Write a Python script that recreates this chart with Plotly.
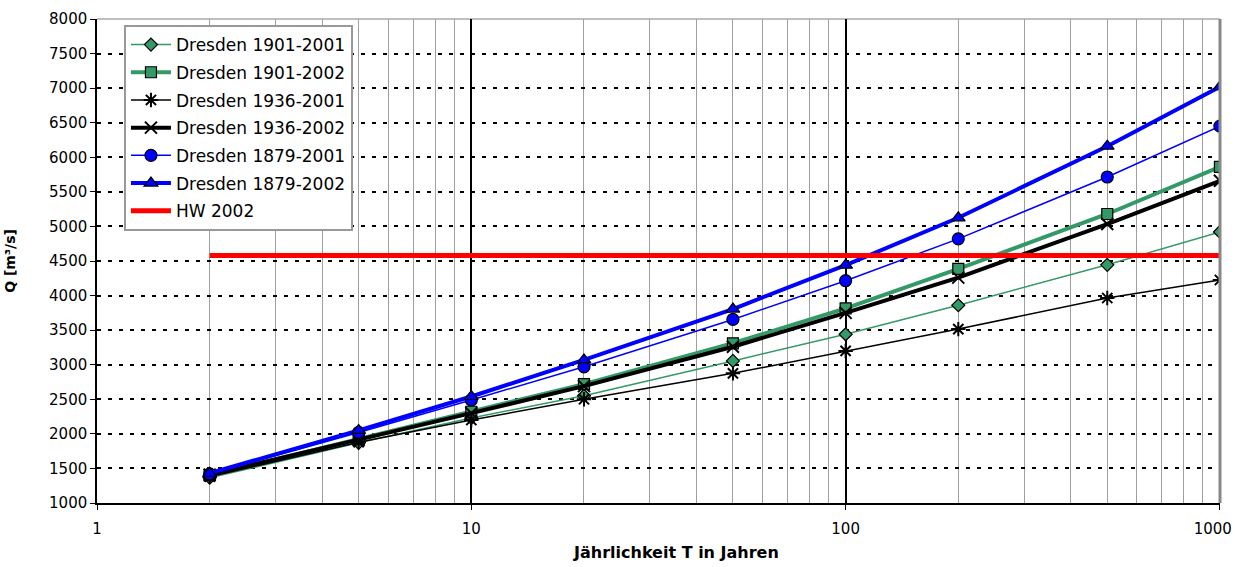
import plotly.graph_objects as go

T = [2, 5, 10, 20, 50, 100, 200, 500, 1000]

q_1901_2001 = [1365, 1870, 2230, 2550, 3055, 3440, 3860, 4445, 4920]
q_1901_2002 = [1400, 1930, 2320, 2720, 3310, 3815, 4385, 5180, 5860]
q_1936_2001 = [1380, 1880, 2200, 2500, 2875, 3200, 3515, 3965, 4225]
q_1936_2002 = [1410, 1910, 2300, 2690, 3260, 3750, 4260, 5035, 5660]
q_1879_2001 = [1420, 2020, 2490, 2970, 3655, 4215, 4820, 5715, 6450]
q_1879_2002 = [1430, 2050, 2540, 3070, 3805, 4440, 5125, 6160, 7020]

hw_T = [2, 1000]
hw_2002 = [4580, 4580]

x_ticks = [1, 10, 100, 1000]
x_ticktext = ["1", "10", "100", "1000\u00a0\u00a0\u00a0"]

GREEN = "#339966"
BLUE = "#0000FF"
FONT = "DejaVu Sans, Verdana, sans-serif"

fig = go.Figure()

def add(name, y, color, width, symbol, fill, size, mline_color="black", mline_w=1.2):
    fig.add_trace(go.Scatter(
        x=T, y=y, name=name, legendgroup=name, mode="lines+markers",
        line=dict(color=color, width=width),
        marker=dict(symbol=symbol, size=size, color=fill,
                    line=dict(color=mline_color, width=mline_w)),
    ))

add("Dresden 1901-2001", q_1901_2001, GREEN, 1.5, "diamond", GREEN, 10)
add("Dresden 1901-2002", q_1901_2002, GREEN, 4, "square", GREEN, 11)
add("Dresden 1936-2001", q_1936_2001, "black", 1.5, "asterisk-open", "black", 12, "black", 2)
add("Dresden 1936-2002", q_1936_2002, "black", 4, "x-thin-open", "black", 12, "black", 2)
add("Dresden 1879-2001", q_1879_2001, BLUE, 1.5, "circle", BLUE, 12)
add("Dresden 1879-2002", q_1879_2002, BLUE, 4, "triangle-up", BLUE, 12)

fig.add_trace(go.Scatter(
    x=hw_T, y=hw_2002, name="HW 2002", legendgroup="HW 2002", mode="lines",
    line=dict(color="#FF0000", width=5),
))

minor_vals = [m * d for d in (1, 10, 100) for m in range(2, 10)]

fig.update_layout(
    width=1235, height=567,
    margin=dict(l=97, r=15, t=19, b=64),
    paper_bgcolor="white", plot_bgcolor="white",
    font=dict(family=FONT, size=15, color="black"),
    showlegend=True,
    legend=dict(
        x=0.024, y=0.9876, xanchor="left", yanchor="top",
        bgcolor="white", bordercolor="#999999", borderwidth=2,
        font=dict(family=FONT, size=17), itemwidth=40,
        traceorder="grouped", tracegroupgap=2.6,
    ),
    xaxis=dict(
        type="log", range=[0, 3.0002], automargin=False,
        tickvals=x_ticks, ticktext=x_ticktext, ticklabeloverflow="allow",
        showgrid=True, gridcolor="black", gridwidth=1.5,
        showline=True, linecolor="black", linewidth=1.5,
        ticks="outside", ticklen=5, tickcolor="black", ticklabelstandoff=6,
        minor=dict(tickvals=minor_vals, showgrid=True, gridcolor="#A0A0A0", gridwidth=1, ticks=""),
        zeroline=False,
        tickfont=dict(family=FONT, size=15),
    ),
    yaxis=dict(
        range=[1000, 8000], dtick=500, tick0=1000, automargin=False,
        showgrid=True, gridcolor="black", gridwidth=2, griddash="4px,7px",
        showline=True, linecolor="black", linewidth=1.5,
        ticks="outside", ticklen=5, tickcolor="black",
        zeroline=False,
        title=dict(text="<b>Q [m³/s]</b>", font=dict(family=FONT, size=14), standoff=30),
        tickfont=dict(family=FONT, size=15),
    ),
    annotations=[dict(
        text="<b>Jährlichkeit T in Jahren</b>", xref="paper", yref="paper",
        x=0.516, y=-0.102, xanchor="center", yanchor="middle", showarrow=False,
        font=dict(family=FONT, size=16, color="black"),
    )],
)

# plot-area frame on top and right (grey)
fig.add_shape(type="line", xref="paper", yref="paper", x0=1, x1=1, y0=0, y1=1,
              line=dict(color="#888888", width=3), layer="above")
fig.add_shape(type="line", xref="paper", yref="paper", x0=0, x1=1, y0=1, y1=1,
              line=dict(color="#AAAAAA", width=1.5), layer="below")

fig.write_html("out.html")
